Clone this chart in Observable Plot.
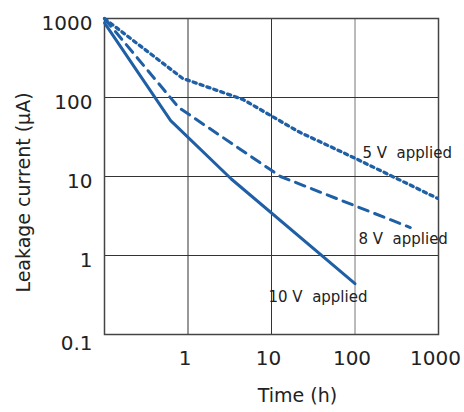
<!DOCTYPE html>
<html>
<head>
<meta charset="utf-8">
<script src="https://cdn.jsdelivr.net/npm/d3@7"></script>
<script src="https://cdn.jsdelivr.net/npm/@observablehq/plot@0.6"></script>
<style>
  html, body { margin: 0; padding: 0; background: #fff; }
  svg text { white-space: pre; }
</style>
</head>
<body>
<div id="chart"></div>
<script>
// Data (log-log)
const time5V = [0.1, 0.86, 4.6, 21, 96, 970];
const current5V = [1000, 175, 94, 37, 17.4, 5.3];
const time8V = [0.1, 0.77, 12.8, 460];
const current8V = [1000, 75, 10, 2.26];
const time10V = [0.1, 0.62, 3.3, 100];
const current10V = [880, 51, 9.3, 0.44];

const xTicks = [1, 10, 100, 1000];
const yTicks = [0.1, 1, 10, 100, 1000];

const labelText = ["5 V  applied", "8 V  applied", "10 V  applied"];
const labelTime = [123, 110, 9.2];
const labelCurrent = [20, 1.59, 0.30];

const toRows = (t, c) => t.map((x, i) => ({time: x, current: c[i]}));
const rows5 = toRows(time5V, current5V);
const rows8 = toRows(time8V, current8V);
const rows10 = toRows(time10V, current10V);
const labels = labelText.map((s, i) => ({text: s, time: labelTime[i], current: labelCurrent[i]}));

const blue = "#1f5fa6";
const fmt = d => String(d);

const chart = Plot.plot({
  width: 464,
  height: 412,
  marginLeft: 104,
  marginRight: 26,
  marginTop: 18,
  marginBottom: 78,
  style: {fontFamily: "DejaVu Sans", background: "#fff", color: "#222"},
  x: {type: "log", domain: [0.1, 1000]},
  y: {type: "log", domain: [0.1, 1000]},
  marks: [
    Plot.gridX([1, 10], {stroke: "#333", strokeOpacity: 1}),
    Plot.gridX([100], {stroke: "#777", strokeOpacity: 1}),
    Plot.gridY([1, 10, 100], {stroke: "#333", strokeOpacity: 1}),
    Plot.frame({stroke: "#444", strokeWidth: 1.5}),
    Plot.axisX(xTicks, {tickSize: 0, tickPadding: 16, fontSize: 20, label: null, tickFormat: fmt, dx: -3}),
    Plot.axisY(yTicks.slice(1), {tickSize: 0, tickPadding: 12, fontSize: 20, label: null, tickFormat: fmt, dy: 5}),
    Plot.axisY(yTicks.slice(0, 1), {tickSize: 0, tickPadding: 12, fontSize: 20, label: null, tickFormat: fmt, dy: 9}),
    Plot.line(rows5, {x: "time", y: "current", stroke: blue, strokeWidth: 3.3, strokeDasharray: "3.3,4"}),
    Plot.line(rows8, {x: "time", y: "current", stroke: blue, strokeWidth: 3, strokeDasharray: "10,7"}),
    Plot.line(rows10, {x: "time", y: "current", stroke: blue, strokeWidth: 3}),
    Plot.text(labels, {x: "time", y: "current", text: "text", textAnchor: "start", fontSize: 15, fill: "#222"}),
    Plot.text(["Time (h)"], {frameAnchor: "bottom", textAnchor: "middle", dx: 26, dy: 67, fontSize: 19, fill: "#222"}),
    Plot.text(["Leakage current (μA)"], {frameAnchor: "left", textAnchor: "middle", rotate: -90, dx: -81, dy: 16, fontSize: 19, fill: "#222"})
  ]
});
document.getElementById("chart").appendChild(chart);
</script>
</body>
</html>
